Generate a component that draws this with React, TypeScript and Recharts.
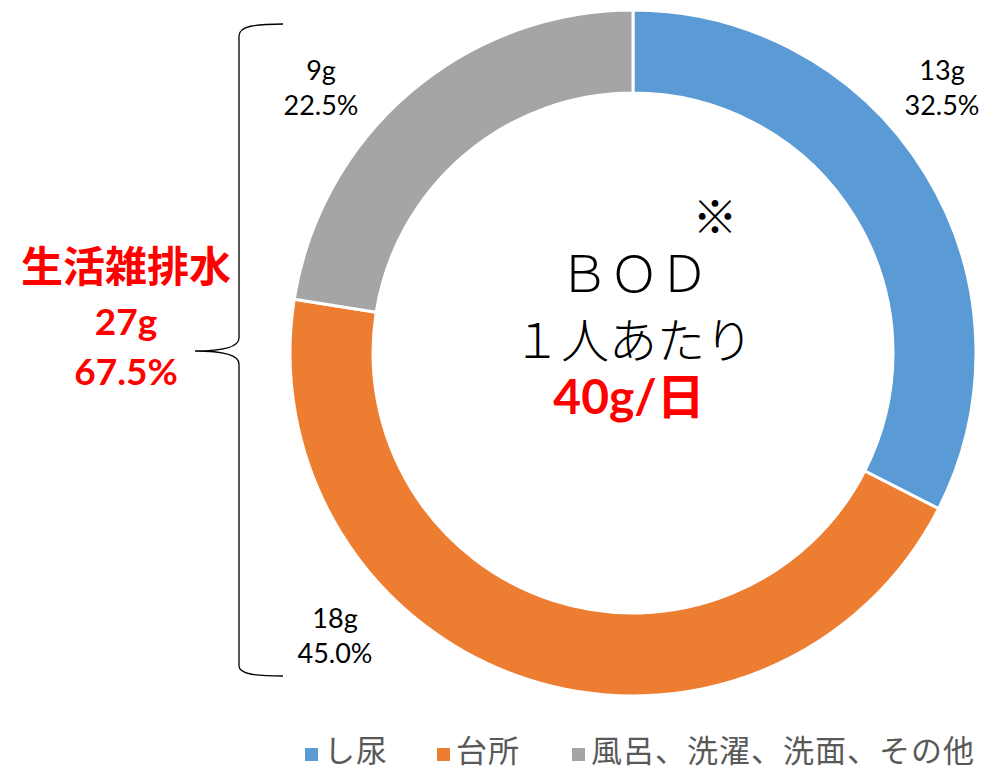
import React from "react";
import { PieChart, Pie, Cell, Legend, Customized } from "recharts";

const categories = ["し尿", "台所", "風呂、洗濯、洗面、その他"];
const grams = [13, 18, 9];
const colors = ["#5B9BD5", "#ED7D31", "#A5A5A5"];
const labelOffsets = [
  { dx: 309, dy: -273 },
  { dx: -298, dy: 275 },
  { dx: -312, dy: -273 },
];
const legendGaps = [49, 52, 0];

const data = categories.map((name, i) => ({ name, value: grams[i] }));
const total = grams.reduce((a, b) => a + b, 0);
const greyWaterGrams = grams[1] + grams[2];

const CX = 633;
const CY = 353;
const numFont = "Lato, 'Noto Sans CJK JP', sans-serif";
const jpFont = "'Noto Sans CJK JP', sans-serif";

const renderLabel = (props: any) => {
  const { cx, cy, index, value } = props;
  const off = labelOffsets[index];
  const x = cx + off.dx;
  const y = cy + off.dy;
  return (
    <text x={x} y={y} textAnchor="middle" fill="#000" fontFamily={numFont} fontSize={27}>
      <tspan x={x} y={y}>{`${value}g`}</tspan>
      <tspan x={x} y={y + 35}>{`${((value / total) * 100).toFixed(1)}%`}</tspan>
    </text>
  );
};

const Overlay = () => (
  <g>
    <text x={715} y={234} textAnchor="middle" fontFamily={jpFont} fontSize={45} fill="#000">※</text>
    <text x={634} y={292} textAnchor="middle" fontFamily={jpFont} fontWeight={300} fontSize={50} fill="#000">ＢＯＤ</text>
    <text x={633} y={358} textAnchor="middle" fontFamily={jpFont} fontWeight={300} fontSize={48} fill="#000">１人あたり</text>
    <text x={629} y={414} textAnchor="middle" fontFamily={numFont} fontWeight={700} fontSize={48} fill="#FF0000">{`${total}g/日`}</text>
    <text x={126} y={282} textAnchor="middle" fontFamily={jpFont} fontWeight={700} fontSize={42} fill="#FF0000">生活雑排水</text>
    <text x={126} y={335} textAnchor="middle" fontFamily={numFont} fontWeight={700} fontSize={37} fill="#FF0000">{`${greyWaterGrams}g`}</text>
    <text x={126} y={385} textAnchor="middle" fontFamily={numFont} fontWeight={700} fontSize={37} fill="#FF0000">{`${((greyWaterGrams / total) * 100).toFixed(1)}%`}</text>
    <path
      d="M283,24 C255,24 239,26 239,36 L239,338 C239,347 225,351 195,351 C225,351 239,355 239,364 L239,666 C239,674 255,676 283,676"
      fill="none"
      stroke="#000"
      strokeWidth={1.3}
    />
  </g>
);

const LegendContent = (props: any) => {
  const { payload } = props;
  return (
    <div style={{ display: "flex", alignItems: "center", fontFamily: jpFont, fontSize: 31, letterSpacing: 1, color: "#595959", lineHeight: "32px", height: 32, whiteSpace: "nowrap" }}>
      {(payload || []).map((entry: any, i: number) => (
        <div key={i} style={{ display: "flex", alignItems: "center", marginRight: legendGaps[i] }}>
          <span style={{ display: "inline-block", width: 13, height: 13, background: entry.color, marginRight: 6, marginTop: 10 }} />
          <span>{entry.value}</span>
        </div>
      ))}
    </div>
  );
};

export default function App() {
  return (
    <div style={{ position: "absolute", left: 0, top: 0, width: 1002, height: 770, background: "#fff" }}>
      <PieChart width={1002} height={770} margin={{ top: 0, right: 0, bottom: 0, left: 0 }}>
        <Pie
          data={data}
          dataKey="value"
          nameKey="name"
          cx={CX}
          cy={CY}
          innerRadius={260}
          outerRadius={343}
          startAngle={90}
          endAngle={-270}
          stroke="#FFFFFF"
          strokeWidth={3}
          label={renderLabel}
          labelLine={false}
          isAnimationActive={false}
        >
          {data.map((d, i) => (
            <Cell key={d.name} fill={colors[i]} />
          ))}
        </Pie>
        <Customized component={Overlay} />
        <Legend
          content={<LegendContent />}
          wrapperStyle={{ position: "absolute", left: 305, top: 733, width: 697, height: 32 }}
        />
      </PieChart>
    </div>
  );
}
